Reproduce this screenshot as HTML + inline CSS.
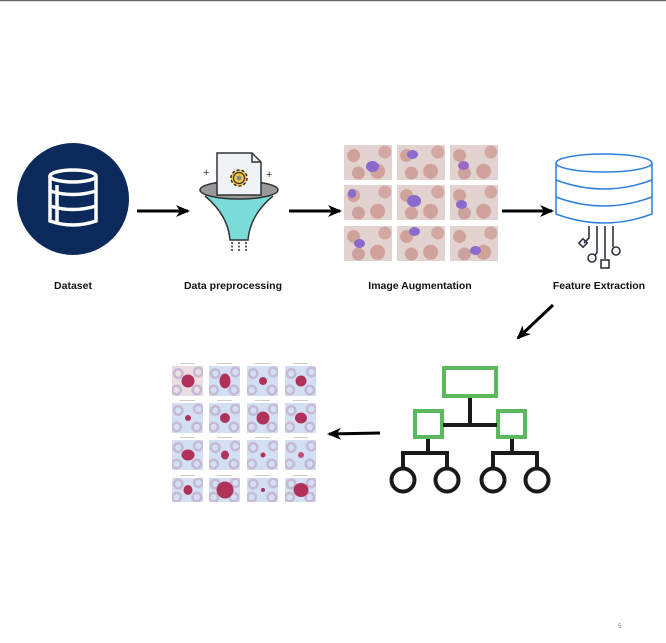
<!DOCTYPE html>
<html><head><meta charset="utf-8"><style>
html,body{margin:0;padding:0;background:#fff}
body{width:666px;height:643px;overflow:hidden;position:relative;font-family:"Liberation Sans",Arial,sans-serif}
.lbl{position:absolute;top:280px;font-size:10.5px;font-weight:bold;color:#111;white-space:nowrap;transform:translateX(-50%)}
.aug{position:absolute;width:48px;height:35px;background:
radial-gradient(circle at 20% 30%,#cfa39c 0 6px,transparent 7px),
radial-gradient(circle at 70% 75%,#d0a29b 0 7px,transparent 8px),
radial-gradient(circle at 85% 20%,#d2a8a2 0 6px,transparent 7px),
radial-gradient(circle at 30% 80%,#cda29c 0 6px,transparent 7px),
#e3d3d0}
.aug i{position:absolute;width:11px;height:9px;border-radius:50%;background:#8a6acc}
.bl{position:absolute;width:31px;height:30px;background:
radial-gradient(circle at 20% 25%,transparent 0 3px,#c4b8d4 3px 5px,transparent 6px),
radial-gradient(circle at 80% 80%,transparent 0 3px,#c4b8d4 3px 5px,transparent 6px),
radial-gradient(circle at 15% 80%,transparent 0 3px,#c6bad5 3px 5px,transparent 6px),
radial-gradient(circle at 85% 20%,transparent 0 3px,#c6bad5 3px 5px,transparent 6px),
#d3e0f4}
.bl i{position:absolute;left:50%;top:50%;border-radius:50%;background:#b0325a;transform:translate(-50%,-50%)}
.bl:before{content:"";position:absolute;left:8px;top:-3px;width:15px;height:1px;background:#ccc}
</style></head><body>
<div style="position:absolute;left:0;top:0;width:666px;height:1px;background:#666"></div>
<div style="position:absolute;left:0;top:1px;width:666px;height:1px;background:#ddd"></div>

<svg width="666" height="643" style="position:absolute;left:0;top:0">
<defs><marker id="ah" markerWidth="14" markerHeight="12" refX="12" refY="6" orient="auto" markerUnits="userSpaceOnUse"><path d="M0,0 L14,6 L0,12 L4,6 z" fill="#000"/></marker></defs>
<circle cx="73" cy="199" r="56" fill="#0b2a5b"/>
<g fill="none" stroke="#fff" stroke-width="3.5">
<ellipse cx="73" cy="176" rx="23" ry="6"/>
<path d="M50,176 V221 Q73,229 96,221 V176"/>
<path d="M50,191 Q73,198 96,191 M50,206 Q73,213 96,206"/>
<path d="M57,185 V222"/>
</g>
<text x="203" y="176" font-size="11" fill="#333">+</text>
<text x="266" y="178" font-size="11" fill="#333">+</text>
<path d="M205,196 Q228,215 230,240 H248 Q250,215 273,196" fill="#7adbd8" stroke="#333" stroke-width="1.5"/>
<ellipse cx="239" cy="190" rx="39" ry="9" fill="#999" stroke="#333" stroke-width="1.5"/>
<path d="M217,153 H252 L261,162 V195 H217 Z" fill="#f0f3f5" stroke="#333" stroke-width="1.5"/>
<path d="M252,153 V162 H261" fill="none" stroke="#333" stroke-width="1.5"/>
<circle cx="239" cy="178" r="8" fill="#f5c842" stroke="#333" stroke-width="1.5" stroke-dasharray="3 2"/>
<circle cx="239" cy="178" r="5.5" fill="#f5c842" stroke="#333" stroke-width="1.2"/>
<circle cx="239" cy="178" r="2.5" fill="#888"/>
<path d="M232,242 V252 M239,242 V252 M246,242 V252" stroke="#333" stroke-width="1.5" stroke-dasharray="2 1.5"/>
<g fill="none" stroke="#2f7fe0" stroke-width="1.5">
<ellipse cx="604" cy="163" rx="48" ry="9" fill="#fff"/>
<path d="M556,163 V214 Q604,232 652,214 V163"/>
<path d="M556,180 Q604,198 652,180 M556,197 Q604,215 652,197"/>
</g>
<g fill="none" stroke="#334" stroke-width="1.6">
<path d="M589,226 V238 L584,243"/><rect x="580" y="240" width="6" height="6" transform="rotate(45 583 243)"/>
<path d="M597,226 V253"/><circle cx="592" cy="258" r="4"/><path d="M597,253 L595,255"/>
<path d="M605,226 V259"/><rect x="601" y="260" width="8" height="8"/>
<path d="M613,226 V247"/><circle cx="616" cy="251" r="4"/>
</g>
<g fill="none" stroke="#5cb85c" stroke-width="4">
<rect x="444" y="368" width="52" height="28"/>
<rect x="415" y="411" width="27" height="26"/>
<rect x="498" y="411" width="27" height="26"/>
</g>
<g fill="none" stroke="#1a1a1a" stroke-width="4">
<path d="M470,398 V425 M443,425 H497"/>
<path d="M428,439 V453 M403,468 V453 H447 V468"/>
<path d="M512,439 V453 M493,468 V453 H537 V468"/>
<circle cx="403" cy="480" r="11.5"/><circle cx="447" cy="480" r="11.5"/>
<circle cx="493" cy="480" r="11.5"/><circle cx="537" cy="480" r="11.5"/>
</g>
<g stroke="#000" stroke-width="3" marker-end="url(#ah)">
<line x1="137" y1="211" x2="188" y2="211"/>
<line x1="289" y1="211" x2="340" y2="211"/>
<line x1="502" y1="211" x2="552" y2="211"/>
<line x1="553" y1="305" x2="518" y2="338"/>
<line x1="380" y1="433" x2="329" y2="434"/>
</g>
<text x="618" y="628" font-size="6" fill="#777">5</text>
</svg>

<div class="aug" style="left:344px;top:145px"><i style="left:22px;top:16px;width:13px;height:11px"></i></div>
<div class="aug" style="left:397px;top:145px"><i style="left:10px;top:5px"></i></div>
<div class="aug" style="left:450px;top:145px"><i style="left:8px;top:16px;background:#9a6ac0"></i></div>
<div class="aug" style="left:344px;top:185px"><i style="left:4px;top:4px;width:8px"></i></div>
<div class="aug" style="left:397px;top:185px"><i style="left:10px;top:10px;width:14px;height:12px"></i></div>
<div class="aug" style="left:450px;top:185px"><i style="left:6px;top:15px"></i></div>
<div class="aug" style="left:344px;top:226px"><i style="left:10px;top:13px"></i></div>
<div class="aug" style="left:397px;top:226px"><i style="left:12px;top:1px"></i></div>
<div class="aug" style="left:450px;top:226px"><i style="left:20px;top:20px"></i></div>

<div class="bl" style="left:172px;top:366px;background-color:#ecdde4"><i style="width:13px;height:13px"></i></div>
<div class="bl" style="left:209px;top:366px"><i style="width:11px;height:15px"></i></div>
<div class="bl" style="left:247px;top:366px"><i style="width:8px;height:8px"></i></div>
<div class="bl" style="left:285px;top:366px"><i style="width:11px;height:11px"></i></div>
<div class="bl" style="left:172px;top:403px"><i style="width:6px;height:6px"></i></div>
<div class="bl" style="left:209px;top:403px"><i style="width:10px;height:10px"></i></div>
<div class="bl" style="left:247px;top:403px"><i style="width:13px;height:13px"></i></div>
<div class="bl" style="left:285px;top:403px"><i style="width:12px;height:11px"></i></div>
<div class="bl" style="left:172px;top:440px"><i style="width:13px;height:11px"></i></div>
<div class="bl" style="left:209px;top:440px"><i style="width:8px;height:9px"></i></div>
<div class="bl" style="left:247px;top:440px"><i style="width:5px;height:5px"></i></div>
<div class="bl" style="left:285px;top:440px"><i style="width:6px;height:6px;background:#c2507a"></i></div>
<div class="bl" style="left:172px;top:478px;height:24px"><i style="width:9px;height:10px"></i></div>
<div class="bl" style="left:209px;top:478px;height:24px"><i style="width:17px;height:17px"></i></div>
<div class="bl" style="left:247px;top:478px;height:24px"><i style="width:4px;height:4px"></i></div>
<div class="bl" style="left:285px;top:478px;height:24px"><i style="width:15px;height:14px"></i></div>

<div class="lbl" style="left:73px">Dataset</div>
<div class="lbl" style="left:233px">Data preprocessing</div>
<div class="lbl" style="left:420px">Image Augmentation</div>
<div class="lbl" style="left:599px">Feature Extraction</div>
</body></html>
